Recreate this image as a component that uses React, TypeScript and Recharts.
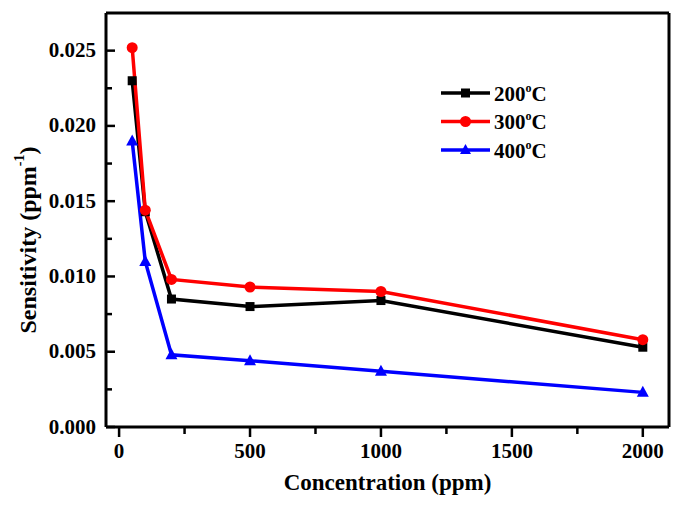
import React from 'react';
import { LineChart, Line, XAxis, YAxis, Legend, ReferenceLine } from 'recharts';

const concentrations = [50, 100, 200, 500, 1000, 2000];
const sens200 = [0.023, 0.0143, 0.0085, 0.008, 0.0084, 0.0053];
const sens300 = [0.0252, 0.0144, 0.0098, 0.0093, 0.009, 0.0058];
const sens400 = [0.019, 0.011, 0.0048, 0.0044, 0.0037, 0.0023];

const xTicks = [0, 250, 500, 750, 1000, 1250, 1500, 1750, 2000];
const yTicks = [0, 0.0025, 0.005, 0.0075, 0.01, 0.0125, 0.015, 0.0175, 0.02, 0.0225, 0.025];
const xDomain = [-50, 2100];
const yDomain = [0, 0.0275];

const seriesLabels = ['200', '300', '400'];
const seriesColors = ['#000000', '#ff0000', '#0000ff'];

const data = concentrations.map((c, i) => ({
  c,
  s200: sens200[i],
  s300: sens300[i],
  s400: sens400[i],
}));

const FONT = '"Liberation Serif", "Times New Roman", serif';

const isMajor = (v: number, step: number) => Math.abs(v / step - Math.round(v / step)) < 1e-6;

const XTick = (props: any) => {
  const { x, y, payload } = props;
  const major = isMajor(payload.value, 500);
  return (
    <g>
      <line x1={x} x2={x} y1={y} y2={y + (major ? 10 : 7)} stroke="#000" strokeWidth={2.5} />
      {major && (
        <text x={x} y={y + 31} textAnchor="middle" fontFamily={FONT} fontWeight="bold" fontSize={21} fill="#000">
          {payload.value}
        </text>
      )}
    </g>
  );
};

const YTick = (props: any) => {
  const { x, y, payload } = props;
  const major = isMajor(payload.value, 0.005);
  return (
    <g>
      <line x1={x} x2={x + (major ? 9 : 6)} y1={y} y2={y} stroke="#000" strokeWidth={2.5} />
      {major && (
        <text x={x - 10} y={y + 6.5} textAnchor="end" fontFamily={FONT} fontWeight="bold" fontSize={21} fill="#000">
          {payload.value.toFixed(3)}
        </text>
      )}
    </g>
  );
};

const SquareDot = (props: any) => {
  const { cx, cy, index, stroke } = props;
  return <rect key={`sq-${index}`} x={cx - 4.5} y={cy - 4.5} width={9} height={9} fill={stroke} />;
};
const CircleDot = (props: any) => {
  const { cx, cy, index, stroke } = props;
  return <circle key={`ci-${index}`} cx={cx} cy={cy} r={5.5} fill={stroke} />;
};
const TriDot = (props: any) => {
  const { cx, cy, index, stroke } = props;
  return (
    <polygon
      key={`tr-${index}`}
      points={`${cx},${cy - 6.5} ${cx - 6},${cy + 4.5} ${cx + 6},${cy + 4.5}`}
      fill={stroke}
    />
  );
};

const markerFor = (i: number, cx: number, cy: number, color: string) => {
  if (i === 0) return <rect x={cx - 4.5} y={cy - 4.5} width={9} height={9} fill={color} />;
  if (i === 1) return <circle cx={cx} cy={cy} r={5.5} fill={color} />;
  return <polygon points={`${cx},${cy - 6} ${cx - 5.5},${cy + 4} ${cx + 5.5},${cy + 4}`} fill={color} />;
};

const LegendContent = () => (
  <svg width={150} height={90} style={{ overflow: 'visible' }}>
    {seriesLabels.map((lab, i) => {
      const y = 13 + i * 28.5;
      return (
        <g key={lab}>
          <line x1={5} x2={54} y1={y} y2={y} stroke={seriesColors[i]} strokeWidth={3.5} />
          {markerFor(i, 29.5, y, seriesColors[i])}
          <text x={58} y={y + 7.5} fontFamily={FONT} fontWeight="bold" fontSize={21} fill="#000">
            {lab}
            <tspan dy={-9} fontSize={12}>o</tspan>
            <tspan dy={9}>C</tspan>
          </text>
        </g>
      );
    })}
  </svg>
);

const YLabel = () => {
  const cx = 28;
  const cy = 240;
  return (
    <text
      x={cx}
      y={cy}
      transform={`rotate(-90 ${cx} ${cy})`}
      textAnchor="middle"
      dominantBaseline="central"
      fontFamily={FONT}
      fontWeight="bold"
      fontSize={24}
      fill="#000"
    >
      Sensitivity (ppm
      <tspan dy={-9} fontSize={14}>-1</tspan>
      <tspan dy={9}>)</tspan>
    </text>
  );
};

const XLabel = (props: any) => {
  const { viewBox } = props;
  const cx = viewBox.x + viewBox.width / 2;
  return (
    <text x={cx} y={490} textAnchor="middle" fontFamily={FONT} fontWeight="bold" fontSize={23} fill="#000">
      Concentration (ppm)
    </text>
  );
};

export default function App() {
  return (
    <div style={{ position: 'absolute', left: 0, top: 0, width: 685, height: 509, background: '#fff' }}>
      <LineChart width={685} height={509} data={data} margin={{ top: 13, right: 16, left: 0, bottom: 0 }}>
        <XAxis
          dataKey="c"
          type="number"
          domain={xDomain}
          ticks={xTicks}
          allowDataOverflow
          height={82}
          tickSize={0}
          tickMargin={0}
          tickLine={false}
          tick={<XTick />}
          axisLine={{ stroke: '#000', strokeWidth: 3 }}
          label={{ content: <XLabel /> }}
          interval={0}
        />
        <YAxis
          type="number"
          domain={yDomain}
          ticks={yTicks}
          allowDataOverflow
          width={106}
          tickSize={0}
          tickMargin={0}
          tickLine={false}
          tick={<YTick />}
          axisLine={{ stroke: '#000', strokeWidth: 3 }}
          label={{ content: <YLabel /> }}
          interval={0}
        />
        <ReferenceLine y={yDomain[1]} stroke="#000" strokeWidth={3} />
        <ReferenceLine x={xDomain[1]} stroke="#000" strokeWidth={3} />
        <Line
          dataKey="s200"
          stroke={seriesColors[0]}
          strokeWidth={3.5}
          dot={SquareDot}
          isAnimationActive={false}
        />
        <Line
          dataKey="s300"
          stroke={seriesColors[1]}
          strokeWidth={3.5}
          dot={CircleDot}
          isAnimationActive={false}
        />
        <Line
          dataKey="s400"
          stroke={seriesColors[2]}
          strokeWidth={3.5}
          dot={TriDot}
          isAnimationActive={false}
        />
        <Legend
          layout="vertical"
          align="center"
          verticalAlign="middle"
          wrapperStyle={{ left: 436, top: 80, width: 150 }}
          content={<LegendContent />}
        />
      </LineChart>
    </div>
  );
}
